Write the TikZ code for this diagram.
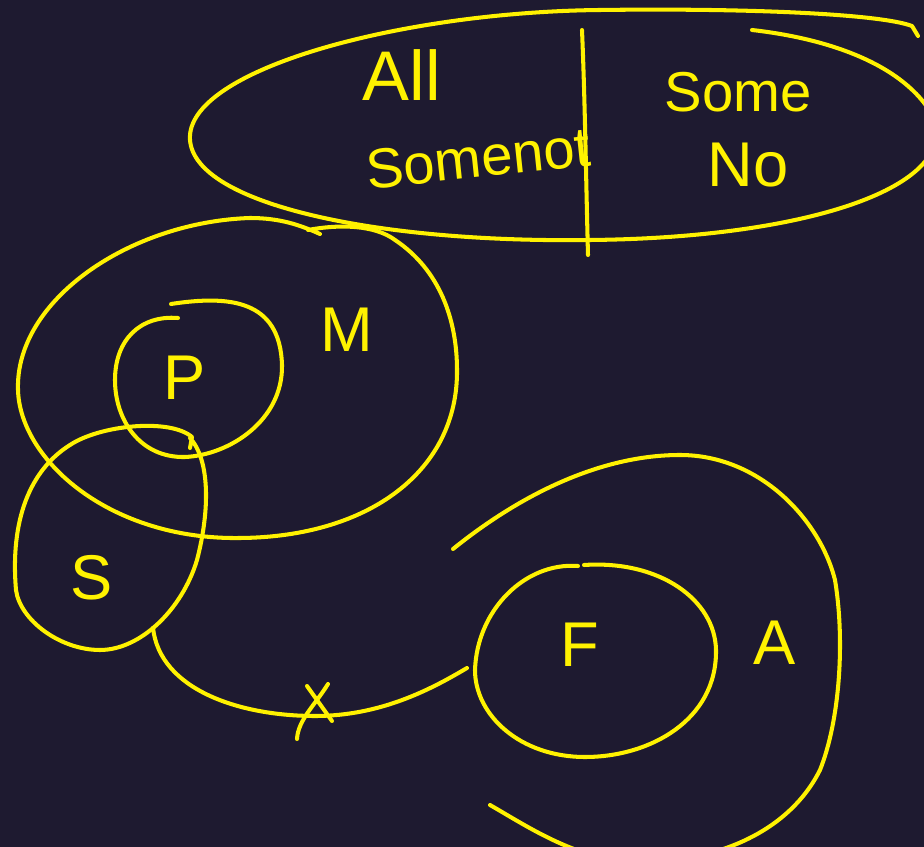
\documentclass[tikz,border=0pt]{standalone}
\usepackage{fontspec}
\setmainfont{Liberation Sans}
\definecolor{bgc}{HTML}{1E1A30}
\definecolor{ink}{HTML}{FFF200}
\begin{document}
\begin{tikzpicture}[x=0.02cm,y=-0.02cm,
  stroke/.style={draw=ink,line width=2.3pt,line cap=round,line join=round},
  lbl/.style={text=ink,inner sep=0pt,font=\fontsize{36}{40}\selectfont},
  word/.style={text=ink,inner sep=0pt,font=\fontsize{32}{36}\selectfont}]
\fill[bgc] (0,0) rectangle (924,847);
\useasboundingbox (0,0) rectangle (924,847);
\begin{scope}
\clip (0,0) rectangle (924,847);
% top ellipse
\draw[stroke] (752,30) .. controls (840,40) and (910,70) .. (935,120)
  .. controls (955,190) and (800,238) .. (590,240)
  .. controls (380,243) and (195,205) .. (190,140)
  .. controls (185,70) and (400,12) .. (600,10)
  .. controls (750,8) and (880,14) .. (912,26) -- (918,36);
\draw[stroke] (582,30) .. controls (585,100) and (586,180) .. (588,255);
\node[word,font=\fontsize{40}{44}\selectfont] (all) at (402,75) {All};
\node[word,rotate=6] (somenot) at (478,158) {Somenot};
\node[word] (some) at (738,92) {Some};
\node[word,font=\fontsize{36}{40}\selectfont] (no) at (748,165) {No};
% M
\draw[stroke] (308,230) .. controls (340,224) and (375,225) .. (395,240)
  .. controls (440,270) and (457,320) .. (457,370)
  .. controls (458,470) and (370,537) .. (240,538)
  .. controls (110,540) and (20,460) .. (18,390)
  .. controls (15,300) and (130,222) .. (250,218)
  .. controls (280,218) and (300,225) .. (320,234);
% P
\draw[stroke] (171,304) .. controls (230,295) and (280,300) .. (282,365)
  .. controls (283,420) and (230,455) .. (185,457)
  .. controls (140,458) and (115,420) .. (115,380)
  .. controls (115,340) and (140,315) .. (178,318);
% S
\draw[stroke] (190,438) .. controls (210,460) and (210,510) .. (197,560)
  .. controls (182,610) and (140,650) .. (100,650)
  .. controls (60,650) and (20,620) .. (16,590)
  .. controls (10,520) and (30,470) .. (70,445)
  .. controls (100,425) and (170,418) .. (192,437) -- (190,448);
\node[lbl] (P) at (185,378) {P};
\node[lbl] (M) at (347,330) {M};
\node[lbl] (S) at (92,578) {S};
% connector S - F
\coordinate (c1) at (153,628);
\coordinate (c2) at (467,668);
\draw[stroke] (c1) .. controls (160,690) and (240,716) .. (315,716)
  .. controls (380,716) and (430,690) .. (c2);
% X mark
\draw[stroke] (307,686) -- (332,721);
\draw[stroke] (328,684) .. controls (315,705) and (298,720) .. (297,739);
% F
\draw[stroke] (584,565) .. controls (660,560) and (715,600) .. (716,650)
  .. controls (717,720) and (650,757) .. (585,757)
  .. controls (520,757) and (475,715) .. (475,670)
  .. controls (477,610) and (525,562) .. (578,566);
% A
\draw[stroke] (453,549) .. controls (520,495) and (600,455) .. (680,455)
  .. controls (760,455) and (820,520) .. (835,580)
  .. controls (845,640) and (840,720) .. (820,770)
  .. controls (790,830) and (720,862) .. (640,862)
  .. controls (580,862) and (530,828) .. (490,805);
\node[lbl] (F) at (580,645) {F};
\node[lbl] (A) at (775,643) {A};
\end{scope}
\end{tikzpicture}
\end{document}
